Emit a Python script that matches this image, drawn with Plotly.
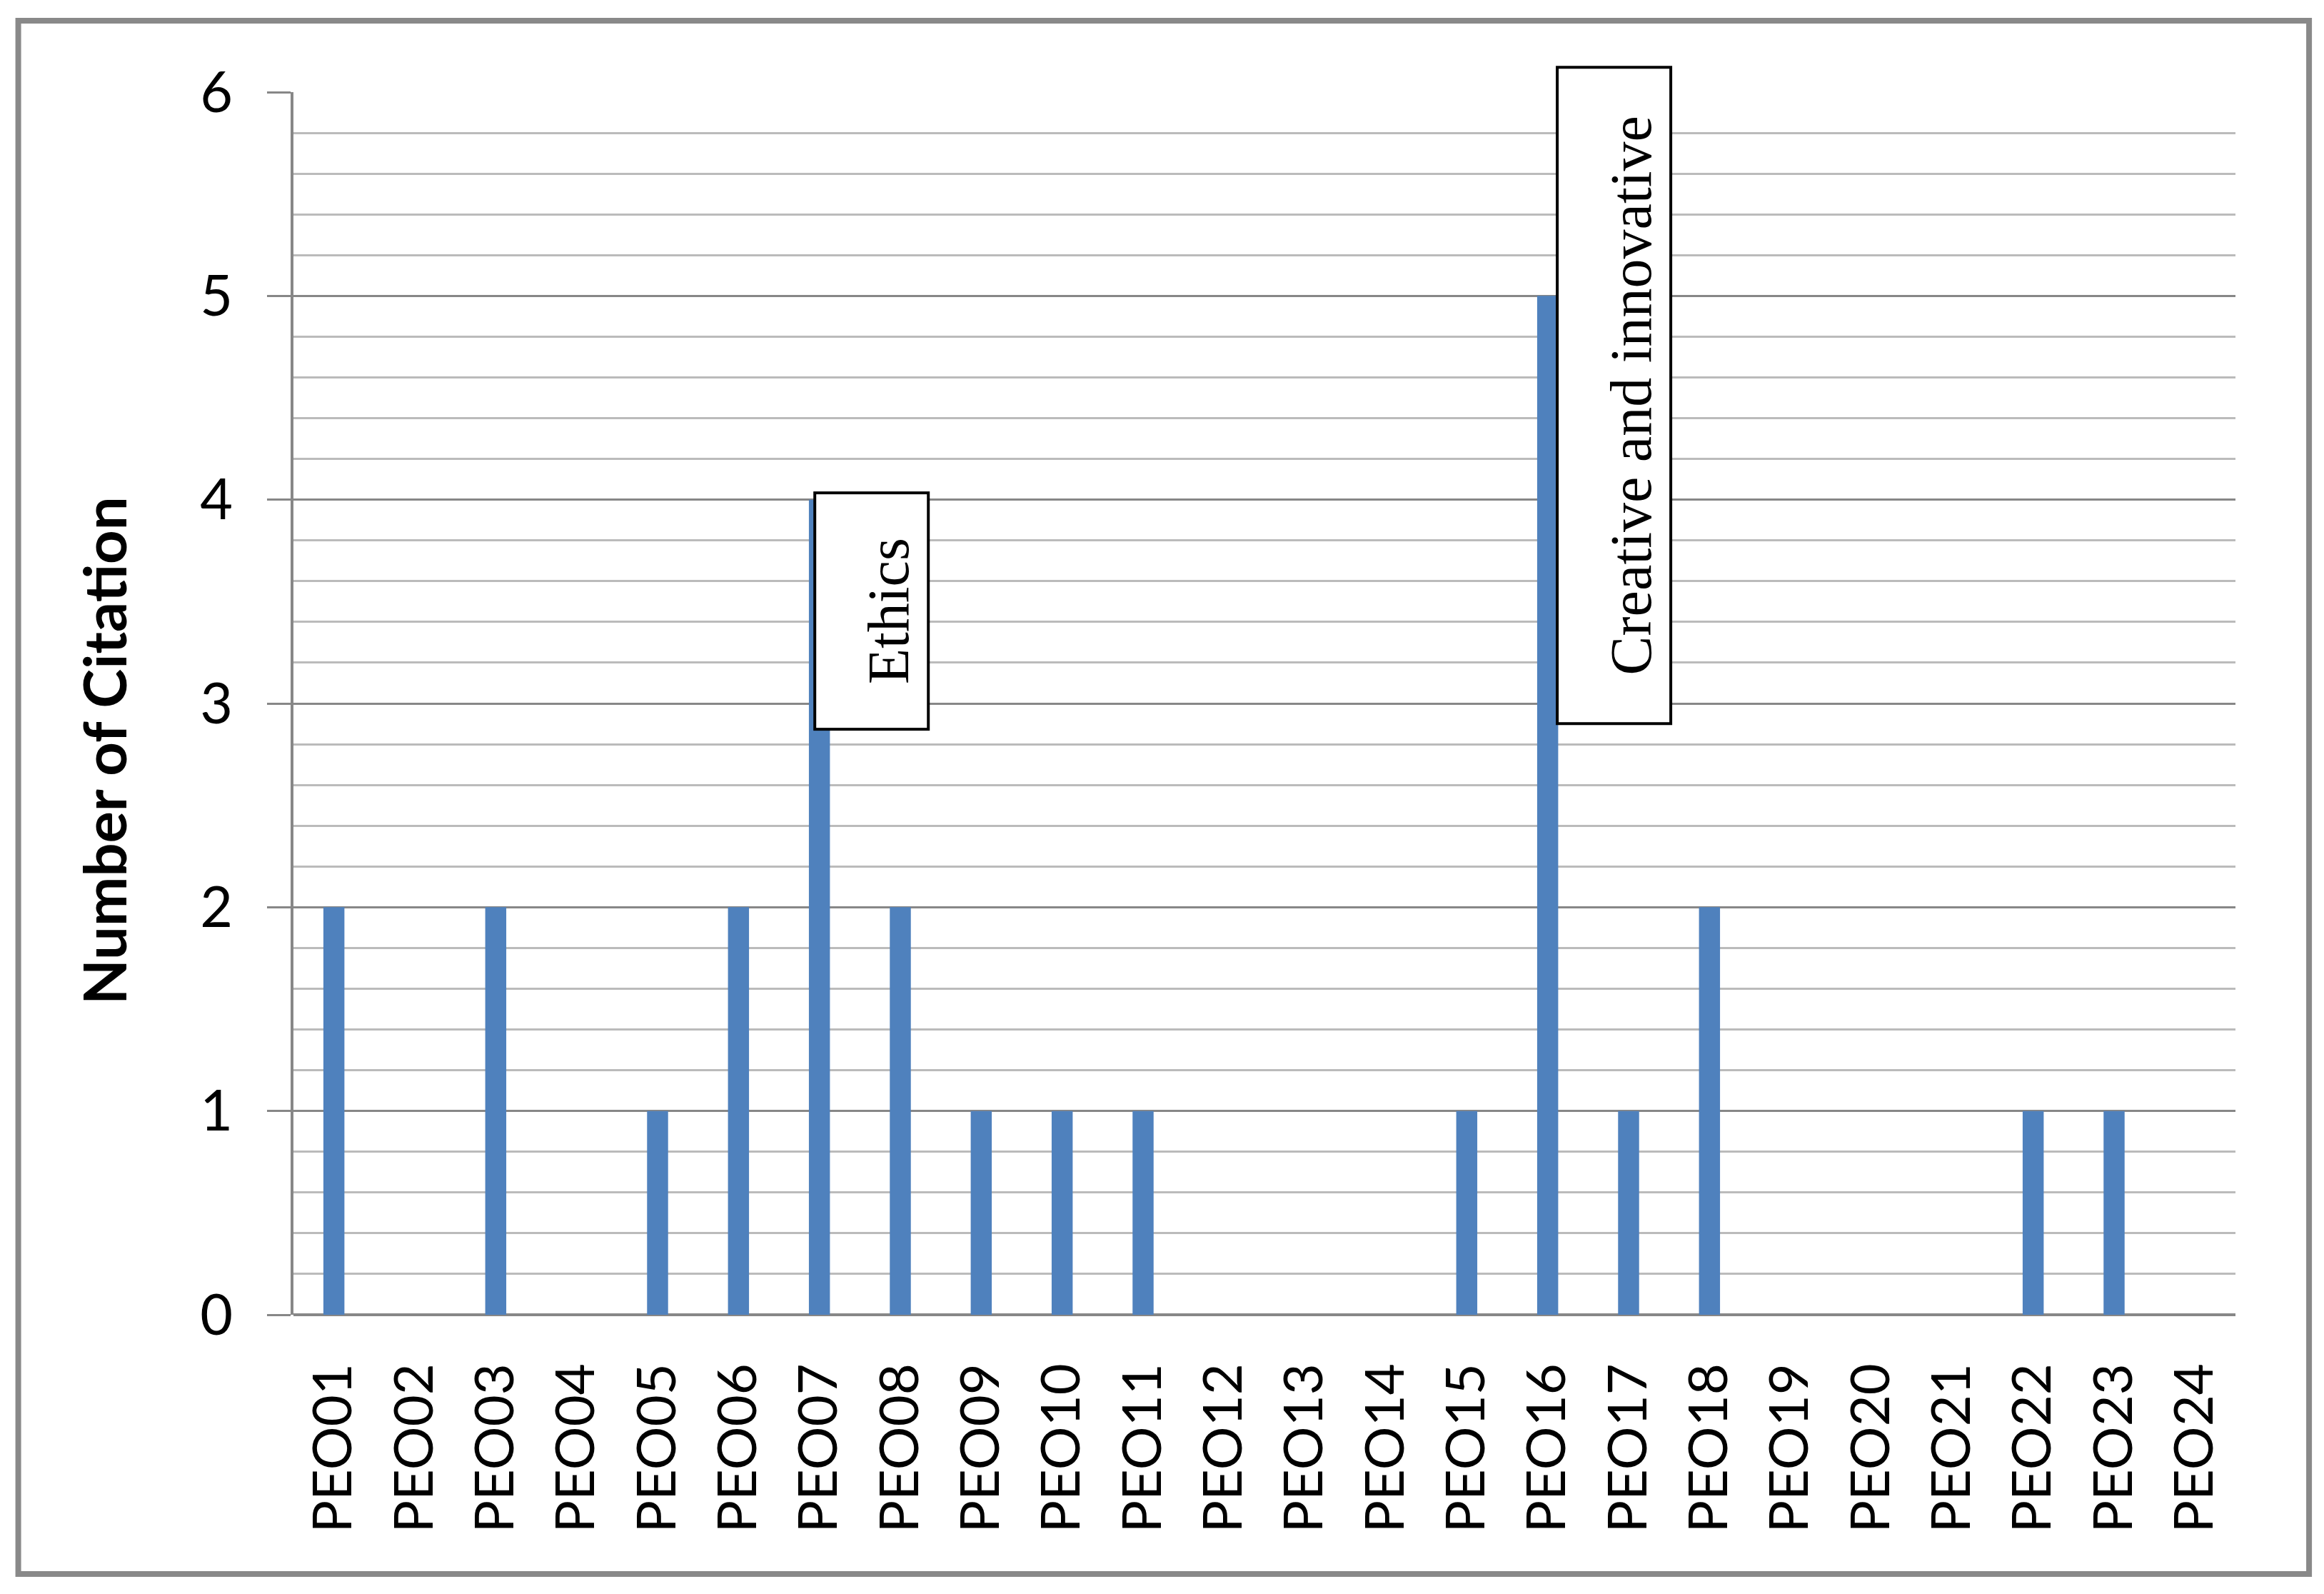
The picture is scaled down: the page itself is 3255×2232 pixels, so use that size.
import plotly.graph_objects as go

# PEO categories and how often each was cited
categories = ["PEO%02d" % i for i in range(1, 25)]
citations = [2, 0, 2, 0, 1, 2, 4, 2, 1, 1, 1, 0, 0, 0, 1, 5, 1, 2, 0, 0, 0, 1, 1, 0]

y_ticks = [0, 1, 2, 3, 4, 5, 6]
y_title = "Number of Citation"

# call-out labels: (category, text, x shift px, centre y, box length px)
callouts = [
    ("PEO07", "Ethics", 73, 3.454, 335),
    ("PEO16", "Creative and innovative", 93, 4.512, 923),
]

BLUE = "#4F81BD"
GRID = "#878787"
MINOR = "#BBBBBB"
SANS = "Lato, Liberation Sans, Arial"
SERIF = "Liberation Serif, Times New Roman, serif"

fig = go.Figure()
fig.add_trace(go.Bar(
    x=categories,
    y=citations,
    marker=dict(color=BLUE, line=dict(width=0)),
    width=0.26,
))

# the page body adds an 8px margin, so the figure is 16px smaller than the window
fig.update_layout(
    width=3247, height=2224,
    margin=dict(l=403, r=124, t=121, b=391),
    paper_bgcolor="white", plot_bgcolor="white",
    showlegend=False,
    font=dict(family=SANS, color="black"),
)

fig.update_xaxes(
    type="category",
    tickangle=-90,
    tickfont=dict(family=SANS, size=76, color="black"),
    ticks="",
    ticklabelstandoff=52,
    showgrid=False,
    showline=False,
    zeroline=False,
)

fig.update_yaxes(
    range=[0, 6],
    tickvals=y_ticks,
    tickfont=dict(family=SANS, size=79, color="black"),
    ticks="outside", ticklen=33, tickwidth=3, tickcolor=GRID,
    ticklabelstandoff=32,
    showline=True, linecolor=GRID, linewidth=4,
    showgrid=True, gridcolor=GRID, gridwidth=3,
    zeroline=True, zerolinecolor=GRID, zerolinewidth=4,
    minor=dict(dtick=0.2, showgrid=True, gridcolor=MINOR, gridwidth=3, ticks=""),
)

# y axis title placed as an annotation so it can sit a little below centre
fig.add_annotation(
    text="<b>" + y_title + "</b>",
    xref="paper", yref="paper", x=-0.0978, y=0.4614,
    xanchor="center", yanchor="middle",
    textangle=-90, showarrow=False,
    font=dict(family=SANS, size=83, color="black"),
)

pad = 8
bw = 4
thick = 163
for cat, label, shift, yc, length in callouts:
    fig.add_annotation(
        x=cat, y=yc, xref="x", yref="y", xshift=shift,
        xanchor="center", yanchor="middle",
        text=label, showarrow=False, textangle=-90,
        width=length - 2 * (pad + bw), height=thick - 2 * (pad + bw),
        valign="bottom", align="center",
        bgcolor="white", bordercolor="black", borderwidth=bw, borderpad=pad,
        font=dict(family=SERIF, size=82, color="black"),
    )

# grey frame around the whole chart
fig.add_shape(
    type="rect", xref="paper", yref="paper",
    x0=-0.1417, x1=1.0379, y0=-0.2120, y1=1.0584,
    line=dict(color="#898989", width=8), fillcolor="rgba(0,0,0,0)",
    layer="above",
)

fig.write_html("out.html")
